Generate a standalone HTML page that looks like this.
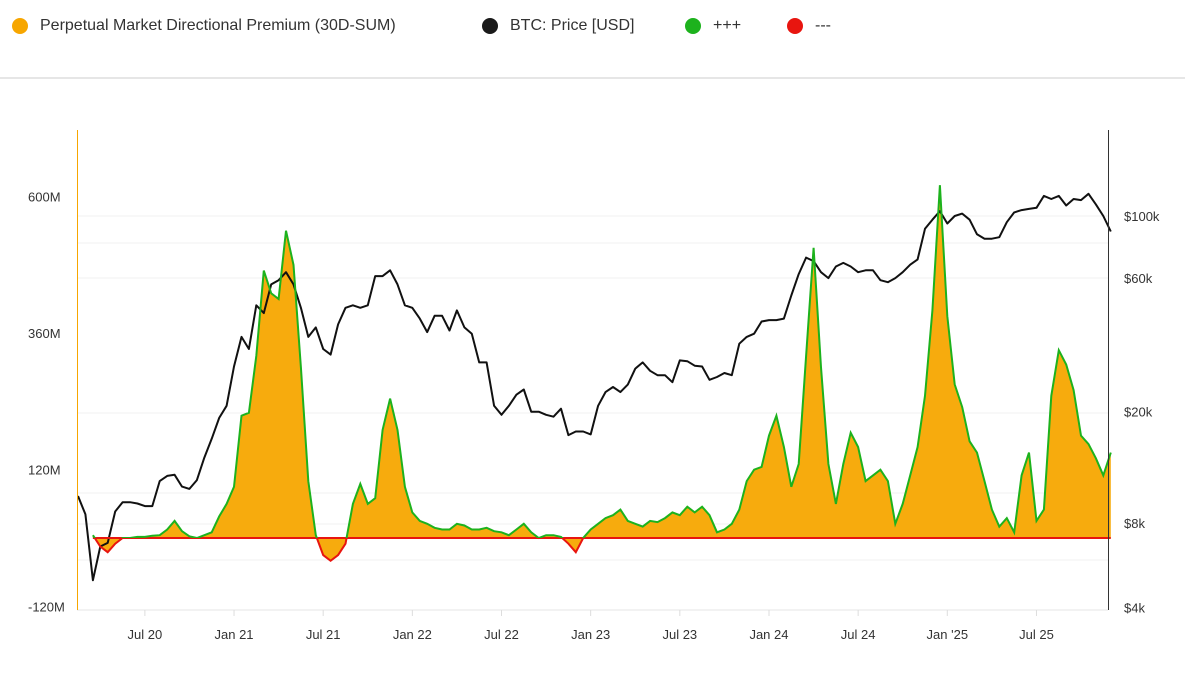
<!DOCTYPE html>
<html><head><meta charset="utf-8"><style>
body{margin:0;background:#fff;font-family:"Liberation Sans",sans-serif;}
#wrap{position:relative;width:1185px;height:697px;overflow:hidden;}
.leg{position:absolute;top:17px;font-size:16px;color:#333;display:flex;align-items:center;}
.dot{width:16px;height:16px;border-radius:50%;margin-right:12px;}
</style></head><body>
<div id="wrap">
<div class="leg" style="left:12px"><span class="dot" style="background:#F7A600"></span>Perpetual Market Directional Premium (30D-SUM)</div>
<div class="leg" style="left:482px"><span class="dot" style="background:#1a1a1a"></span>BTC: Price [USD]</div>
<div class="leg" style="left:685px"><span class="dot" style="background:#1db21d"></span>+++</div>
<div class="leg" style="left:787px"><span class="dot" style="background:#e8150f"></span>---</div>
<div style="position:absolute;left:0;top:77px;width:1185px;height:2px;background:#e6e6e6"></div>
<svg id="chart" width="1185" height="697" style="position:absolute;left:0;top:0"></svg>
</div>
<script>
const premium = [0,0,5,-15,-25,-10,0,0,2,2,4,5,15,30,12,3,0,5,10,38,60,90,215,220,320,470,430,420,540,480,
300,100,5,-30,-40,-30,-10,60,95,60,70,190,245,190,90,45,30,25,18,15,15,25,22,15,15,18,12,10,5,15,
25,10,0,5,5,2,-10,-25,0,15,25,35,40,50,30,25,20,30,28,35,45,40,55,45,55,40,10,15,25,50,
100,120,125,180,215,160,90,130,320,510,300,130,60,130,185,160,100,110,120,100,25,60,110,160,250,400,620,390,270,230,
170,150,100,50,20,35,10,110,150,30,50,250,330,305,260,180,165,140,110,150];
const priceK = [10.0,8.6,5.0,6.6,6.8,8.8,9.5,9.5,9.4,9.2,9.2,11.3,11.8,11.9,10.8,10.6,11.4,13.7,16.0,19.0,21.0,
29,37,33.5,48,45,57,59,63,57,47,37,40,33.5,32,41,47,48,47,48,61,61,64,57,48,
47,43,38.5,44,44,39,46,40,38,30,30,21,19.5,21,23,24,20,20,19.5,19.2,20.5,16.5,17,17,
16.6,21,23.5,24.5,23.5,25,28.5,30,28,27,27,25.5,30.5,30.3,29.2,29,26,26.6,27.5,27,35,37,38,42,
42.5,42.5,43,52,62,71,69,63,60,66,68,66,63,64,64,59,58,60,63,67,70,90,97,104,
94,100,102,97,86,83,83,84,95,103,105,106,107,118,115,118,109,115,114,120,110,100,88];
const leftTicks = [600,360,120,-120];
const leftTickLabels = ["600M","360M","120M","-120M"];
const rightTicks = [100,60,20,8,4];
const rightTickLabels = ["$100k","$60k","$20k","$8k","$4k"];
const xTickIdx = [9,21,33,45,57,69,81,93,105,117,129];
const xTickLabels = ["Jul 20","Jan 21","Jul 21","Jan 22","Jul 22","Jan 23","Jul 23","Jan 24","Jul 24","Jan '25","Jul 25"];

const NS="http://www.w3.org/2000/svg";
const svg=document.getElementById('chart');
const X0=78, DX=7.43;
const xs=i=>X0+DX*i;
const yL=v=>538-v*0.569;
const yR=v=>216-Math.log10(v/100)*280;
function mk(tag,attrs,parent){const e=document.createElementNS(NS,tag);for(const k in attrs)e.setAttribute(k,attrs[k]);(parent||svg).appendChild(e);return e;}

// gridlines
[216,243,278,413,493,524,560].forEach(y=>{
  const g=mk('line',{x1:77,x2:1108,y1:y,y2:y,stroke:'#f0f0f0','stroke-width':1});
  
  
});
const ax=mk('line',{x1:77,x2:1108,y1:610,y2:610,stroke:'#e4e4e4'});



// premium area
const defs=mk('defs',{});
const gr=mk('linearGradient',{id:'og',x1:0,y1:0,x2:1,y2:0},defs);
mk('stop',{offset:'0','stop-color':'#F7A600'},gr);
mk('stop',{offset:'1','stop-color':'#F9B21A'},gr);
const cpA=mk('clipPath',{id:'above'},defs);mk('rect',{x:0,y:0,width:1185,height:yL(0)},cpA);
const cpB=mk('clipPath',{id:'below'},defs);mk('rect',{x:0,y:yL(0),width:1185,height:200},cpB);

let start=2;
let d='M'+xs(start)+','+yL(0);
for(let i=start;i<premium.length;i++)d+=' L'+xs(i).toFixed(1)+','+yL(premium[i]).toFixed(1);
d+=' L'+xs(premium.length-1)+','+yL(0)+' Z';
const area=mk('path',{d:d,fill:'#F7A600',opacity:0.95});



// price line
let pd='';
priceK.forEach((v,i)=>{pd+=(i?' L':'M')+xs(i).toFixed(1)+','+yR(v).toFixed(1);});
const pl=mk('path',{d:pd,fill:'none',stroke:'#111','stroke-width':2,'stroke-linejoin':'round'});



// premium line
let ld='';
for(let i=start;i<premium.length;i++)ld+=(i>start?' L':'M')+xs(i).toFixed(1)+','+yL(premium[i]).toFixed(1);
const zl=mk('line',{x1:xs(start),x2:xs(premium.length-1),y1:yL(0),y2:yL(0),stroke:'#e8150f','stroke-width':2});


const gl=mk('path',{d:ld,fill:'none',stroke:'#1db21d','stroke-width':2,'clip-path':'url(#above)'});


const rl=mk('path',{d:ld,fill:'none',stroke:'#e8150f','stroke-width':2,'clip-path':'url(#below)'});



// axis borders
const lb=mk('line',{x1:77.5,x2:77.5,y1:130,y2:610,stroke:'#F7A600','stroke-width':1});


const rb=mk('line',{x1:1108.5,x2:1108.5,y1:130,y2:610,stroke:'#333','stroke-width':1});



// ticks
leftTicks.forEach((v,i)=>{
  const t=mk('text',{x:28,y:yL(v)+5,'font-size':13,fill:'#333','font-family':'Liberation Sans, sans-serif'});
  t.textContent=leftTickLabels[i];
  
  
});
rightTicks.forEach((v,i)=>{
  const t=mk('text',{x:1124,y:yR(v)+5,'font-size':13,fill:'#333','font-family':'Liberation Sans, sans-serif'});
  t.textContent=rightTickLabels[i];
  
  
});
xTickIdx.forEach((idx,i)=>{
  const tk=mk('line',{x1:xs(idx),x2:xs(idx),y1:610,y2:616,stroke:'#ddd'});
  
  
  const t=mk('text',{x:xs(idx),y:639,'font-size':13,fill:'#333','text-anchor':'middle','font-family':'Liberation Sans, sans-serif'});
  t.textContent=xTickLabels[i];
  
  
});
</script>
</body></html>
